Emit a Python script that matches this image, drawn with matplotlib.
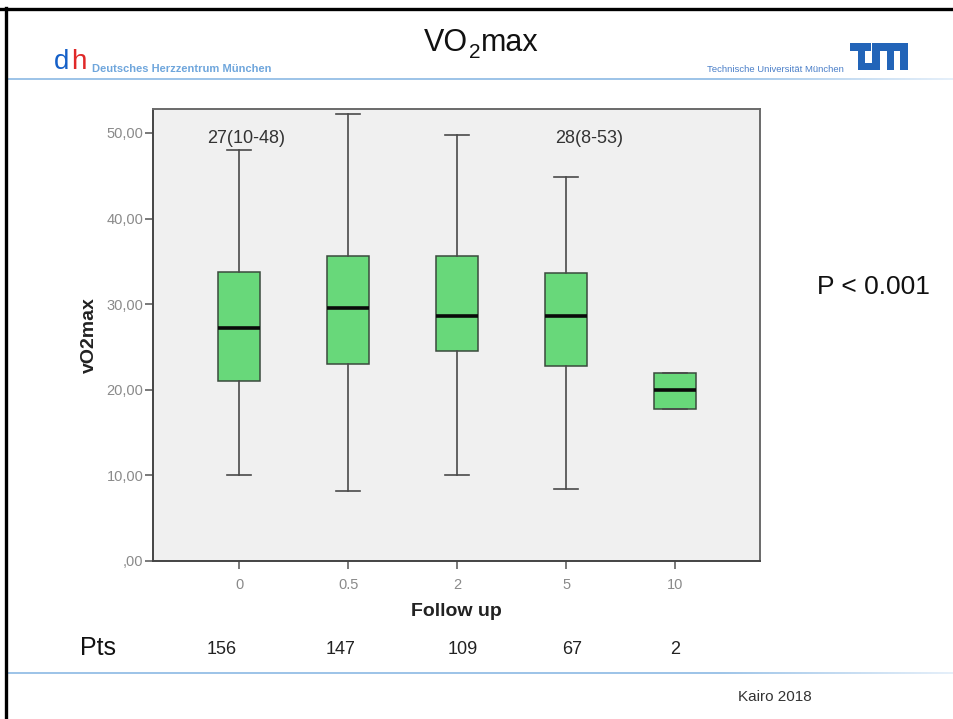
import matplotlib
matplotlib.use('Agg')
import matplotlib.pyplot as plt
import numpy as np
from matplotlib.patches import Rectangle
from matplotlib.lines import Line2D
from matplotlib.transforms import blended_transform_factory, offset_copy

plt.rcParams['font.family'] = ['Liberation Sans', 'DejaVu Sans']

# ---------------- data ----------------
categories = ['0', '0.5', '2', '5', '10']
whisker_low = [10.0, 8.2, 10.0, 8.4, 17.8]
q1 = [21.0, 23.0, 24.5, 22.8, 17.8]
medians = [27.2, 29.5, 28.6, 28.6, 20.0]
q3 = [33.8, 35.6, 35.6, 33.6, 22.0]
whisker_high = [48.0, 52.2, 49.8, 44.9, 22.0]
patients = [156, 147, 109, 67, 2]
y_ticks = [0, 10, 20, 30, 40, 50]
annotations = ['27(10-48)', '28(8-53)']

W, H = 954, 719
fig = plt.figure(figsize=(W / 100, H / 100), dpi=100)
fig.patch.set_facecolor('white')


def fx(x):
    return x / W


def fy(y):
    return 1 - y / H


# ---------------- main axes ----------------
L, R, T, B = 153, 760, 109, 561
ax = fig.add_axes([fx(L), fy(B), (R - L) / W, (B - T) / H])
ax.set_facecolor('#F0F0F0')

stats = []
for lo, a, m, b, hi in zip(whisker_low, q1, medians, q3, whisker_high):
    stats.append(dict(med=m, q1=a, q3=b, whislo=lo, whishi=hi, fliers=[]))
positions = list(range(len(categories)))
ax.bxp(stats, positions=positions, widths=0.39, capwidths=0.22,
       patch_artist=True, showfliers=False,
       boxprops=dict(facecolor='#68D87A', edgecolor='#3A4A3C', linewidth=1.1),
       medianprops=dict(color='#0A0A0A', linewidth=2.6, solid_capstyle='butt'),
       whiskerprops=dict(color='#4A4A4A', linewidth=1.2),
       capprops=dict(color='#4A4A4A', linewidth=1.2))

ax.set_xlim(-0.79, 4.78)
ax.set_ylim(0, 52.8)
ax.set_xticks(positions)
ax.set_xticklabels(categories)
ylabels = []
for v in y_ticks:
    s = f"{v:.2f}".replace('.', ',')
    if s.startswith('0,'):
        s = s[1:]
    ylabels.append(s)
ax.set_yticks(y_ticks)
ax.set_yticklabels(ylabels)
ax.tick_params(axis='both', direction='out', length=6, width=1.1,
               color='#555555', labelcolor='#8A8A8A', labelsize=10.5)
ax.tick_params(axis='y', pad=1)
ax.tick_params(axis='x', pad=6)
for sp in ax.spines.values():
    sp.set_color('#6A6A6A')
    sp.set_linewidth(1.4)
ax.spines['left'].set_color('#444444')
ax.spines['bottom'].set_color('#444444')

ax.set_xlabel('Follow up', fontsize=14, fontweight='bold', color='#222222')
ax.xaxis.set_label_coords(0.5, -0.092)
ax.set_ylabel('vO2max', fontsize=14, fontweight='bold', color='#222222')
ax.yaxis.set_label_coords(-0.09, 0.5)

# annotations
ax.text(0.06, 49.4, annotations[0], ha='center', va='center', fontsize=13, color='#333333')
ax.text(3.21, 49.4, annotations[1], ha='center', va='center', fontsize=13, color='#333333')

# patients row (slide table, slightly offset from tick positions)
pts_offsets_px = [-17, -8, 6, 6, 0]
trans = blended_transform_factory(ax.transData, fig.transFigure)
for p, n, off in zip(positions, patients, pts_offsets_px):
    t = offset_copy(trans, fig=fig, x=off, y=0, units='dots')
    ax.text(p, fy(650), str(n), transform=t, ha='center', va='center',
            fontsize=13, color='#222222', clip_on=False)
fig.text(fx(98), fy(648), 'Pts', ha='center', va='center', fontsize=18, color='#111111')

# P value
fig.text(fx(873), fy(287), 'P < 0.001', ha='center', va='center', fontsize=19, color='#111111')

# ---------------- header ----------------
renderer = fig.canvas.get_renderer()
t1 = fig.text(fx(424), fy(51), 'VO', ha='left', va='baseline', fontsize=22, color='#111111')
bb = t1.get_window_extent(renderer)
t2 = fig.text(fx(bb.x1 + 0.5), fy(57.5), '2', ha='left', va='baseline', fontsize=15, color='#111111')
bb2 = t2.get_window_extent(renderer)
fig.text(fx(bb2.x1 + 0.5), fy(51), 'max', ha='left', va='baseline', fontsize=22, color='#111111')

fig.text(fx(92), fy(69), 'Deutsches Herzzentrum München', ha='left', va='center',
         fontsize=8, fontweight='bold', color='#6FA6DC')
fig.text(fx(54), fy(69), 'd', ha='left', va='baseline', fontsize=20, color='#1560C8')
fig.text(fx(71), fy(69), 'h', ha='left', va='baseline', fontsize=20, color='#E02828')
fig.text(fx(844), fy(69), 'Technische Universität München', ha='right', va='center',
         fontsize=6.8, color='#4A7FC8')

# TUM logo
lax = fig.add_axes([fx(850), fy(70), 58 / W, 27 / H])
lax.set_xlim(0, 58)
lax.set_ylim(27, 0)
lax.axis('off')
blue = '#2264B8'
for (x0, y0, w, h) in [(0, 0, 21.5, 8), (8, 0, 7.5, 27), (8, 20, 22, 7), (22.5, 0, 7.5, 27),
                       (22.5, 0, 35.5, 8), (37, 0, 7.5, 27), (50.5, 0, 7.5, 27)]:
    lax.add_patch(Rectangle((x0, y0), w, h, color=blue, lw=0))

# gradient lines
def grad_line(y):
    gax = fig.add_axes([fx(8), fy(y + 1.5), 1 - fx(8), 3 / H])
    n = 256
    t = np.linspace(0, 1, n)
    c0 = np.array([0.62, 0.77, 0.91])
    c1 = np.array([0.90, 0.94, 0.98])
    w = np.clip((t - 0.75) / 0.25, 0, 1)[:, None]
    cols = c0 * (1 - w) + c1 * w
    gax.imshow(cols[None, :, :], aspect='auto', extent=(0, 1, 0, 1))
    gax.axis('off')

grad_line(79)
grad_line(673)

fig.text(fx(775), fy(697), 'Kairo 2018', ha='center', va='center', fontsize=11, color='#333333')

# border
fig.add_artist(Line2D([0, 1], [fy(9), fy(9)], color='black', lw=2.4, transform=fig.transFigure))
fig.add_artist(Line2D([fx(6.5), fx(6.5)], [0, fy(8)], color='black', lw=2.4, transform=fig.transFigure))

fig.savefig('out.png', dpi=100)
